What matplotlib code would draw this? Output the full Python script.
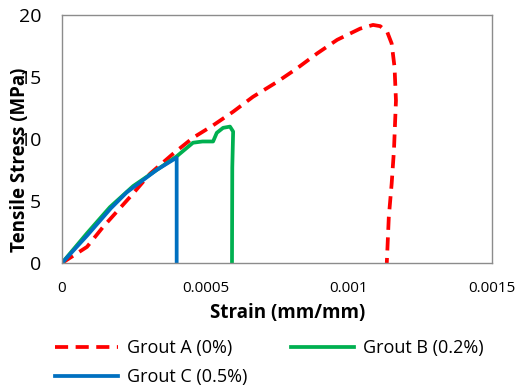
import matplotlib
matplotlib.use("Agg")
import matplotlib.pyplot as plt

plt.rcParams['font.family'] = ['Open Sans', 'DejaVu Sans']

# Grout A (0%)
strain_a = [0, 0.0000872, 0.000143, 0.000248, 0.000307, 0.000387, 0.000457, 0.000527,
            0.000597, 0.000666, 0.00075, 0.00082, 0.00089, 0.00096, 0.00104, 0.001085,
            0.00111, 0.001135, 0.00115, 0.00116, 0.001165, 0.001158, 0.00115, 0.00114, 0.001133]
stress_a = [0, 1.3, 2.9, 5.6, 7.2, 8.8, 10.1, 11.1,
            12.2, 13.4, 14.6, 15.7, 16.9, 18.0, 18.9, 19.2,
            19.1, 18.6, 17.7, 15.8, 13.1, 9.1, 6.4, 3.7, 0.0]

# Grout B (0.2%)
strain_b = [0, 0.0000872, 0.000167, 0.000248, 0.00033, 0.0004, 0.000457, 0.00049,
            0.000527, 0.00054, 0.000562, 0.000586, 0.000597, 0.000594, 0.000593]
stress_b = [0, 2.4, 4.5, 6.2, 7.5, 8.6, 9.7, 9.8,
            9.8, 10.5, 10.9, 11.0, 10.6, 7.7, 0.0]

# Grout C (0.5%)
strain_c = [0, 0.0000872, 0.00017, 0.000226, 0.00033, 0.0004, 0.0004]
stress_c = [0, 2.2, 4.4, 5.7, 7.5, 8.5, 0.0]

x_ticks = [0, 0.0005, 0.001, 0.0015]
x_ticklabels = ['0', '0.0005', '0.001', '0.0015']
y_ticks = [0, 5, 10, 15, 20]

fig = plt.figure(figsize=(5.18, 3.88), dpi=100)
ax = fig.add_axes([62/518, 1 - 263/388, 430/518, 248/388])

la, = ax.plot(strain_a, stress_a, color='#FF0000', lw=2.7, dashes=(3.5, 2),
              label='Grout A (0%)')
lb, = ax.plot(strain_b, stress_b, color='#00B050', lw=2.7, label='Grout B (0.2%)')
lc, = ax.plot(strain_c, stress_c, color='#0070C0', lw=2.7, label='Grout C (0.5%)')

ax.set_xlim(0, 0.0015)
ax.set_ylim(0, 20)
ax.set_xticks(x_ticks)
ax.set_xticklabels(x_ticklabels)
ax.set_yticks(y_ticks)
ax.tick_params(axis='x', length=0, pad=13, labelsize=11)
ax.tick_params(axis='y', length=0, pad=15, labelsize=14)
for s in ax.spines.values():
    s.set_color('#8c8c8c')
    s.set_linewidth(1)

fig.text(20/518, 1 - 160/388, 'Tensile Stress (MPa)', rotation=90, ha='center', va='center',
         fontsize=13.5, fontweight='bold')
fig.text(288/518, 1 - 313/388, 'Strain (mm/mm)', ha='center', va='center',
         fontsize=13.5, fontweight='bold')

fig.legend([la, lc, lb], [la.get_label(), lc.get_label(), lb.get_label()],
           ncol=2, loc='upper left', bbox_to_anchor=(55/518, 1 - 339/388),
           frameon=False, fontsize=13, handlelength=3.5, handletextpad=0.5,
           columnspacing=2.4, labelspacing=0.6, borderpad=0, borderaxespad=0)

fig.savefig('out.png', dpi=100)
